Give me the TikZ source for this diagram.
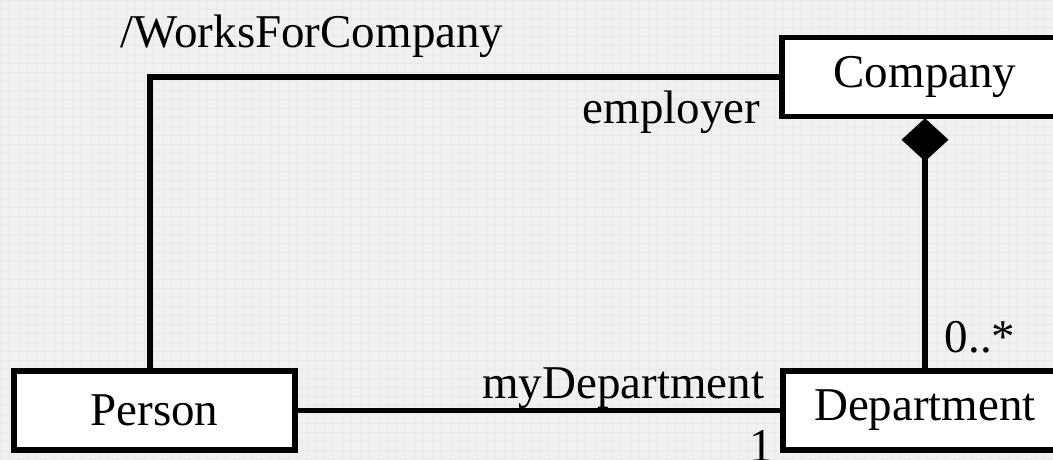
\documentclass[tikz,border=0pt]{standalone}
\usepackage{fontspec}
\setmainfont{Liberation Serif}
\usetikzlibrary{arrows.meta}
\definecolor{paper}{RGB}{241,241,241}
\definecolor{paperline}{RGB}{232,233,233}
\begin{document}
\begin{tikzpicture}[x=1pt, y=-1pt, line width=5.5pt,
    classbox/.style={draw, fill=white, minimum height=79pt, inner sep=0pt,
        font=\fontsize{47}{50}\selectfont},
    rolelabel/.style={inner sep=0pt, font=\fontsize{47}{50}\selectfont}]
 \useasboundingbox (0,0) rectangle (1053,459);
 \clip (0,0) rectangle (1053,459);
 \fill[paper] (0,0) rectangle (1053,459);
 \draw[paperline, line width=.6pt, step=9pt] (0,0) grid (1053,459);
 \node[classbox, minimum width=281pt] (person) at (154.5,410.5) {Person};
 \node[classbox, minimum width=286pt] (company) at (925,77) {Company};
 \node[classbox, minimum width=284pt] (department) at (925,410.5) {Department};
 \coordinate (bend) at (150,77);
 \draw (person.north -| bend)--(bend)--(company.west);
 \draw (person.east)--(department.west);
 \draw[-{Diamond[length=43pt, width=47pt]}, shorten >=-1pt] (department.north)--(company.south);
 \node[rolelabel, anchor=base west] (derived) at (118,47) {/WorksForCompany};
 \node[rolelabel, anchor=base east] (employer) at (763,123) {employer};
 \node[rolelabel, anchor=base east] (mydept) at (767,398) {myDepartment};
 \node[rolelabel, anchor=base west] (one) at (747,461) {1};
 \node[rolelabel, anchor=base west] (many) at (942,352) {0..*};
\end{tikzpicture}
\end{document}
